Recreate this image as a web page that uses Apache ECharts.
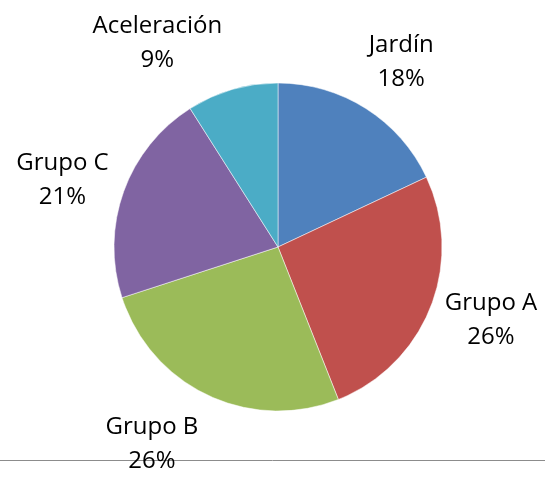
<!DOCTYPE html>
<html>
<head>
<meta charset="utf-8">
<script src="https://cdn.jsdelivr.net/npm/echarts@6/dist/echarts.min.js"></script>
<style>
  html, body { margin: 0; padding: 0; background: #fff; }
  #chart { width: 545px; height: 477px; }
</style>
</head>
<body>
<div id="chart"></div>
<script>
const categories = ['Jardín', 'Grupo A', 'Grupo B', 'Grupo C', 'Aceleración']
const values = [18, 26, 26, 21, 9]
const colors = ['#4F81BD', '#C0504D', '#9BBB59', '#8064A2', '#4BACC6']

const cx = 278
const cy = 247
const radius = 164
const labelDist = 228
// small hand nudges, like Excel's "best fit" label placement
const labelNudge = [[1, 8], [1, -11], [-29, -9], [-1, 10], [-57, 15]]

const total = values.reduce((a, b) => a + b, 0)

// label centre sits on the mid angle of each slice, outside the pie
const labelPos = (i) => {
  let before = 0
  for (let k = 0; k < i; k++) before += values[k]
  const frac = (before + values[i] / 2) / total
  const ang = frac * Math.PI * 2
  return {
    x: cx + Math.sin(ang) * labelDist + labelNudge[i][0],
    y: cy - Math.cos(ang) * labelDist + labelNudge[i][1]
  }
}

const chart = echarts.init(document.getElementById('chart'))
chart.setOption({
  animation: false,
  color: colors,
  graphic: [
    {
      type: 'line',
      z: -1,
      shape: { x1: 0, y1: 460.5, x2: 545, y2: 460.5 },
      style: { stroke: '#8c8c8c', lineWidth: 1 }
    }
  ],
  series: [
    {
      type: 'pie',
      center: [cx, cy],
      radius: radius,
      startAngle: 90,
      clockwise: true,
      itemStyle: { borderColor: '#fff', borderWidth: 0.5 },
      label: {
        show: true,
        position: 'outside',
        overflow: 'none',
        formatter: (p) => p.name + '\n' + Math.round(p.percent) + '%',
        fontFamily: '"Open Sans", sans-serif',
        fontSize: 24,
        lineHeight: 34,
        color: '#000',
        align: 'center'
      },
      labelLine: { show: false },
      labelLayout: (params) => {
        const pos = labelPos(params.dataIndex)
        return { x: pos.x, y: pos.y, align: 'center', verticalAlign: 'middle' }
      },
      data: categories.map((name, i) => ({ name: name, value: values[i] }))
    }
  ]
})
</script>
</body>
</html>
